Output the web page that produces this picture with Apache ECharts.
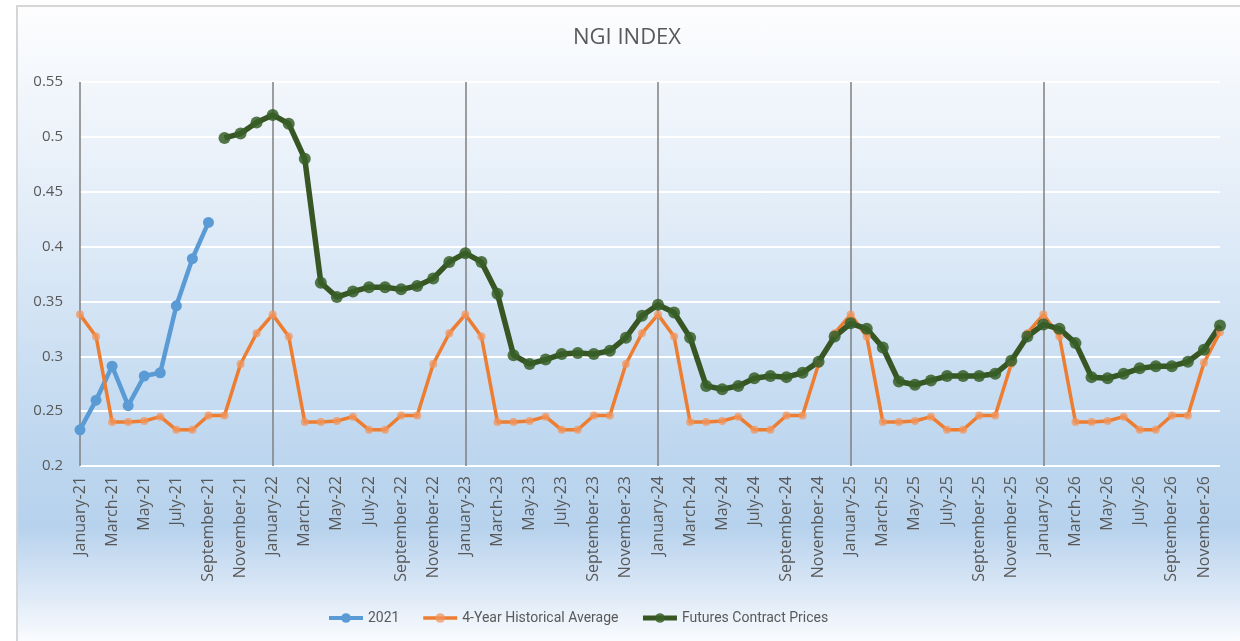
<!DOCTYPE html>
<html>
<head>
<meta charset="utf-8">
<script src="https://cdn.jsdelivr.net/npm/echarts@6/dist/echarts.min.js"></script>
<style>
	html, body { margin: 0; padding: 0; width: 1240px; height: 641px; overflow: hidden; background: #fff; }
	#bg {
		position: absolute; left: 16px; top: 5px; width: 1240px; height: 660px;
		border-left: 2px solid #d6d6d6; border-top: 2px solid #d6d6d6;
		background: linear-gradient(to bottom, #fdfdfe 0px, #e3edf8 200px, #bed7ef 440px, #b7d2ed 520px, #dfeaf7 590px, #fbfcfe 636px);
	}
	#chart { position: absolute; left: 0; top: 0; width: 1240px; height: 641px; }
</style>
</head>
<body>
<div id="bg"></div>
<div id="chart"></div>
<script>
var months = ["January", "February", "March", "April", "May", "June", "July",
	"August", "September", "October", "November", "December"];
var years = ["21", "22", "23", "24", "25", "26"];

var yTicks = { min: 0.2, max: 0.55, interval: 0.05 };

// 2021 actuals, January to September
var actual2021 = [0.233, 0.260, 0.291, 0.255, 0.282, 0.285, 0.346, 0.389, 0.422];

var historicalAverage = [
	0.338, 0.318, 0.240, 0.240, 0.241, 0.245, 0.233, 0.233, 0.246, 0.246, 0.293, 0.321,
	0.338, 0.318, 0.240, 0.240, 0.241, 0.245, 0.233, 0.233, 0.246, 0.246, 0.293, 0.321,
	0.338, 0.318, 0.240, 0.240, 0.241, 0.245, 0.233, 0.233, 0.246, 0.246, 0.293, 0.321,
	0.338, 0.318, 0.240, 0.240, 0.241, 0.245, 0.233, 0.233, 0.246, 0.246, 0.293, 0.321,
	0.338, 0.318, 0.240, 0.240, 0.241, 0.245, 0.233, 0.233, 0.246, 0.246, 0.293, 0.321,
	0.338, 0.318, 0.240, 0.240, 0.241, 0.245, 0.233, 0.233, 0.246, 0.246, 0.294, 0.322
];

// futures start October-21
var futures = [
	null, null, null, null, null, null, null, null, null, 0.499, 0.503, 0.513,
	0.520, 0.512, 0.480, 0.367, 0.354, 0.359, 0.363, 0.363, 0.361, 0.364, 0.371, 0.386,
	0.394, 0.386, 0.357, 0.301, 0.293, 0.297, 0.302, 0.303, 0.302, 0.305, 0.317, 0.337,
	0.347, 0.340, 0.317, 0.273, 0.270, 0.273, 0.280, 0.282, 0.281, 0.285, 0.295, 0.318,
	0.330, 0.325, 0.308, 0.277, 0.274, 0.278, 0.282, 0.282, 0.282, 0.284, 0.296, 0.318,
	0.329, 0.325, 0.312, 0.281, 0.280, 0.284, 0.289, 0.291, 0.291, 0.295, 0.306, 0.328
];

var categories = [];
for (var y = 0; y < years.length; y++) {
	for (var m = 0; m < months.length; m++) {
		categories.push(months[m] + "-" + years[y]);
	}
}

var textColor = "#595959";
var font = "'Open Sans', sans-serif";

var chart = echarts.init(document.getElementById("chart"));
chart.setOption({
	animation: false,
	title: {
		text: "NGI INDEX",
		left: 573,
		top: 27,
		padding: 0,
		textStyle: { color: textColor, fontSize: 22, fontWeight: "normal", fontFamily: font }
	},
	legend: {
		bottom: 16,
		left: 327,
		padding: 0,
		itemWidth: 34,
		itemHeight: 12,
		itemGap: 22,
		textStyle: { color: textColor, fontSize: 14, fontFamily: "Roboto, sans-serif" },
		data: [
			{ name: "2021", lineStyle: { width: 4 } },
			{ name: "4-Year Historical Average", lineStyle: { width: 3.5 } },
			{ name: "Futures Contract Prices", lineStyle: { width: 5 } }
		]
	},
	grid: { left: 80, right: 20, top: 82, bottom: 175 },
	xAxis: {
		type: "category",
		data: categories,
		boundaryGap: false,
		axisLine: { show: false },
		axisTick: { show: false },
		axisLabel: {
			interval: 1,
			rotate: 90,
			margin: 10,
			color: textColor,
			fontSize: 16,
			fontFamily: font
		},
		splitLine: {
			show: true,
			interval: function (index) { return index % 12 === 0; },
			lineStyle: { color: "#7f7f7f", width: 1.5 }
		}
	},
	yAxis: {
		type: "value",
		min: yTicks.min,
		max: yTicks.max,
		interval: yTicks.interval,
		axisLine: { show: false },
		axisTick: { show: false },
		axisLabel: { color: textColor, fontSize: 15, margin: 17, fontFamily: font },
		splitLine: { lineStyle: { color: "#ffffff", width: 2 } }
	},
	series: [{
		name: "2021",
		type: "line",
		data: actual2021,
		symbol: "circle",
		symbolSize: 11,
		showAllSymbol: true,
		lineStyle: { color: "#5b9bd5", width: 4.5 },
		itemStyle: { color: "#5b9bd5" }
	}, {
		name: "4-Year Historical Average",
		type: "line",
		data: historicalAverage,
		symbol: "circle",
		symbolSize: 8,
		showAllSymbol: true,
		lineStyle: { color: "#ed7d31", width: 3.5 },
		itemStyle: { color: "rgba(240,150,95,0.75)" }
	}, {
		name: "Futures Contract Prices",
		type: "line",
		data: futures,
		symbol: "circle",
		symbolSize: 12,
		showAllSymbol: true,
		lineStyle: { color: "#375623", width: 5.5 },
		itemStyle: { color: "rgba(55,95,40,0.85)" }
	}]
});
</script>
</body>
</html>
